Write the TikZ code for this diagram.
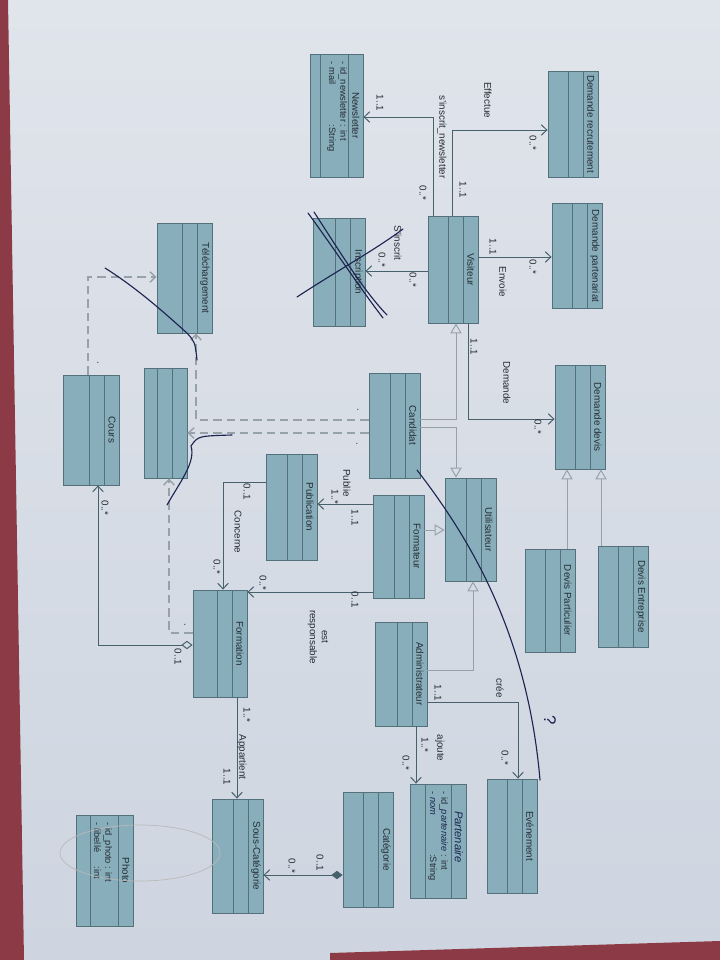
\documentclass[tikz,border=0pt]{standalone}
\usepackage{fontspec}
\setmainfont{Liberation Sans}
\usepackage{tikz}
\usetikzlibrary{arrows.meta,calc,positioning}
\definecolor{papertop}{RGB}{224,228,235}
\definecolor{paperbot}{RGB}{206,213,224}
\definecolor{cloth}{RGB}{140,58,70}
\definecolor{boxfill}{RGB}{136,174,187}
\definecolor{boxline}{RGB}{84,112,122}
\definecolor{linkcol}{RGB}{70,96,108}
\definecolor{gencol}{RGB}{150,162,170}
\definecolor{ink}{RGB}{28,36,80}
\definecolor{txt}{RGB}{36,44,52}
\tikzset{
  cls/.style={draw=boxline, fill=boxfill, line width=0.6pt, rectangle, inner sep=0pt,
    path picture={
      \draw[boxline, line width=0.6pt]
        ([xshift=-0.37cm]path picture bounding box.north east) --
        ([xshift=-0.37cm]path picture bounding box.south east);
      \draw[boxline, line width=0.6pt]
        ([xshift=-#1]path picture bounding box.north east) --
        ([xshift=-#1]path picture bounding box.south east);
    }},
  cls/.default=0.75cm,
  cname/.style={rotate=-90, inner sep=0pt, text=txt, font=\fontsize{7}{8}\selectfont},
  attr/.style={rotate=-90, inner sep=0pt, text=txt, font=\fontsize{6.6}{8}\selectfont, anchor=north west},
  lab/.style={rotate=-90, inner sep=0pt, text=txt, font=\fontsize{7}{8.5}\selectfont},
  assoc/.style={draw=linkcol, line width=0.7pt, -{Straight Barb[length=4pt,width=7.5pt]}},
  gen/.style={draw=gencol, line width=0.7pt, -{Triangle[open,length=7pt,width=8pt]}},
  dep/.style={draw=gencol, line width=1pt, dash pattern=on 6pt off 3.5pt, -{Straight Barb[length=4pt,width=7.5pt]}},
  pen/.style={draw=ink, line width=0.8pt, line cap=round},
}
\begin{document}
\begin{tikzpicture}[x=0.025cm, y=-0.025cm]
\useasboundingbox (0,0) rectangle (720,960);

%% paper and table
\shade[top color=papertop, bottom color=paperbot] (0,0) rectangle (720,960);
\fill[cloth] (0,0) -- (8,0) -- (24,960) -- (0,960) -- cycle;
\fill[cloth] (330,953) -- (720,941) -- (720,960) -- (330,960) -- cycle;

%% classes: name / x / y / width / height / divider / title
\foreach \n/\x/\y/\w/\h/\d/\t in {
  drec/573/124/1.25/2.65/0.75/Demande recrutement,
  dpart/577/256/1.25/2.625/0.75/Demande partenariat,
  news/336.5/115.5/1.325/3.075/1.075/Newsletter,
  vis/453/269.5/1.25/2.675/0.75/Visiteur,
  insc/339/272/1.3/2.7/0.75/Inscription,
  tele/184.5/278/1.375/2.75/0.75/Téléchargement,
  cours/91/430/1.4/2.75/0.75/Cours,
  anon/165.5/423/1.075/2.75/0.75/{},
  cand/394.5/425.5/1.275/2.625/0.75/Candidat,
  pub/291.5/507/1.275/2.65/0.75/Publication,
  ftr/398.5/546.5/1.275/2.575/0.75/Formateur,
  util/470.5/529.5/1.275/2.575/0.75/Utilisateur,
  ddev/580/417/1.25/2.6/0.75/Demande devis,
  dpar/550/600.5/1.25/2.575/0.75/Devis Particulier,
  dent/623/596.5/1.25/2.525/0.75/Devis Entreprise,
  form/220/643.5/1.35/2.675/0.75/Formation,
  admin/401/674/1.3/2.6/0.75/Administrateur,
  even/512/836/1.25/2.85/0.75/Evénement,
  parte/438/841/1.4/2.85/1.025/{},
  cat/368/849.5/1.25/2.875/0.75/Catégorie,
  scat/237.5/856/1.275/2.85/0.75/Sous-Catégorie,
  photo/104.5/870.5/1.425/2.775/1.075/Photo}{
  \node[cls=\d cm, minimum width=\w cm, minimum height=\h cm] (\n) at (\x,\y) {};
  \node[cname] (\n-t) at ($(\n.east)+(-7.5,0)$) {\t};
}
\node[cname, text=ink, font=\fontsize{8}{9}\itshape] (parte-t) at ($(parte.east)+(-7.5,-4)$) {Partenaire};

%% attributes
\node[attr] (news-a) at ($(news.north east)+(-15,8)$)
  {\begin{tabular}{@{}l@{\ }l@{}}- id\_newsletter & : int\\- mail & :String\end{tabular}};
\node[attr] (parte-a) at ($(parte.north east)+(-17,8)$)
  {\begin{tabular}{@{}l@{\ }l@{}}- id\_{\color{ink}\itshape partenaire} & : int\\- {\color{ink}\itshape nom} & :String\end{tabular}};
\node[attr] (photo-a) at ($(photo.north east)+(-20,8)$)
  {\begin{tabular}{@{}l@{\ }l@{}}- id\_photo & : int\\- libellé & :int\end{tabular}};

%% associations from Visiteur
\draw[assoc] (vis.north -| 452,0) |- (drec.west |- 0,130);
\draw[assoc] (vis.north -| 433,0) |- (news.east |- 0,117);
\draw[assoc] (vis.east |- 0,257) -- (dpart.west |- 0,257);
\draw[assoc] (vis.west |- 0,271) -- (insc.east |- 0,271);
\draw[assoc] (vis.south -| 468,0) |- (ddev.west |- 0,419);

%% generalisations
\draw[gen] (cand.east |- 0,419) -| (vis.south -| 456,0);
\draw[gen] (cand.east |- 0,427) -| (util.north -| 456,0);
\draw[gen] (ftr.east |- 0,530) -- (util.west |- 0,530);
\draw[gen] (admin.east |- 0,670) -| (util.south -| 473,0);
\draw[gen] (dpar.north -| 567,0) -- (ddev.south -| 567,0);
\draw[gen] (dent.north -| 601,0) -- (ddev.south -| 601,0);

%% other associations
\draw[assoc] (ftr.west |- 0,504) -- (pub.east |- 0,504);
\draw[assoc] (pub.west |- 0,482) -| (form.north -| 223,0);
\draw[assoc] (ftr.west |- 0,592) -- (form.east |- 0,592);
\draw[assoc] (admin.east |- 0,702) -| (even.north -| 518,0);
\draw[assoc] (admin.south -| 416,0) -- (parte.north -| 416,0);
\draw[assoc] (form.south -| 237,0) -- (scat.north -| 237,0);
\draw[assoc, {Diamond[length=8pt,width=6pt,fill=linkcol]}-{Straight Barb[length=4pt,width=7.5pt]}]
  (cat.west |- 0,875) -- (scat.east |- 0,875);
\draw[assoc, {Diamond[open,length=8pt,width=6pt]}-{Straight Barb[length=4pt,width=7.5pt]}]
  (form.west |- 0,645) -| (cours.south -| 98,0);

%% dependencies (dashed)
\draw[dep] (cand.west |- 0,420) -| (tele.south -| 196,0);
\draw[dep] (cand.west |- 0,433) -- (anon.east |- 0,433);
\draw[dep] (form.west |- 0,633) -| (anon.south -| 169,0);
\draw[dep] (cours.north -| 88,0) |- (tele.west |- 0,277);

%% role names and multiplicities
\node[lab] (l-eff) at (488,100) {Effectue};
\node[lab] (l-snl) at (442,137) {s'inscrit\_newsletter};
\node[lab] (m-news1) at (380,103) {1..1};
\node[lab] (m-news2) at (423,193) {0..*};
\node[lab] (m-drec1) at (533,143) {0..*};
\node[lab] (m-drec2) at (463,190) {1..1};
\node[lab] (m-dp1) at (493,247) {1..1};
\node[lab] (m-dp2) at (533,267) {0..*};
\node[lab] (l-env) at (503,282) {Envoie};
\node[lab] (l-sins) at (398,243) {S'inscrit};
\node[lab] (m-ins1) at (382,260) {0..*};
\node[lab] (m-ins2) at (413,280) {0..*};
\node[lab] (m-dd1) at (474,347) {1..1};
\node[lab] (l-dem) at (507,383) {Demande};
\node[lab] (m-dd2) at (538,427) {0..*};
\node[lab] (l-pub) at (347,483) {Publie};
\node[lab] (m-pub1) at (335,497) {1..*};
\node[lab] (m-pub2) at (355,518) {1..1};
\node[lab] (m-con1) at (247,492) {0..1};
\node[lab] (l-con) at (238,532) {Concerne};
\node[lab] (m-con2) at (217,567) {0..*};
\node[lab] (m-resp1) at (355,600) {0..1};
\node[lab, align=center] (l-resp) at (318,637) {est\\responsable};
\node[lab] (m-resp2) at (263,583) {0..*};
\node[lab] (m-cre1) at (438,693) {1..1};
\node[lab] (l-cre) at (500,688) {crée};
\node[lab] (m-cre2) at (505,758) {0..*};
\node[lab] (l-ajo) at (440,748) {ajoute};
\node[lab] (m-ajo1) at (425,745) {1..*};
\node[lab] (m-ajo2) at (406,763) {0..*};
\node[lab] (m-app1) at (247,715) {1..*};
\node[lab] (l-app) at (242,757) {Appartient};
\node[lab] (m-app2) at (227,777) {1..1};
\node[lab] (m-cat1) at (320,863) {0..1};
\node[lab] (m-cat2) at (292,866) {0..*};
\node[lab] (m-cou1) at (178,657) {0..1};
\node[lab] (m-cou2) at (105,508) {0..*};
\node[lab] (d1) at (358,410) {.};
\node[lab] (d2) at (357,444) {.};
\node[lab] (d3) at (185,625) {.};
\node[lab] (d4) at (98,363) {.};

%% pen marks
\draw[pen] (297,297) .. controls (335,272) and (375,250) .. (403,229);
\draw[pen] (308,213) .. controls (335,250) and (360,288) .. (383,318);
\draw[pen] (314,212) .. controls (340,252) and (363,290) .. (387,315);
\draw[pen] (417,470) .. controls (475,545) and (528,640) .. (540,780);
\draw[pen] (105,268) .. controls (140,290) and (170,318) .. (187,333) .. controls (195,342) .. (197,360);
\draw[pen] (167,505) .. controls (180,482) and (196,462) .. (191,446) .. controls (198,436) .. (232,435);
\node[lab, text=ink, font=\fontsize{12}{12}\selectfont] (q) at (550,720) {?};
\draw[gray!55, line width=0.5pt] (140,853) ellipse [x radius=80, y radius=28];

\end{tikzpicture}
\end{document}
